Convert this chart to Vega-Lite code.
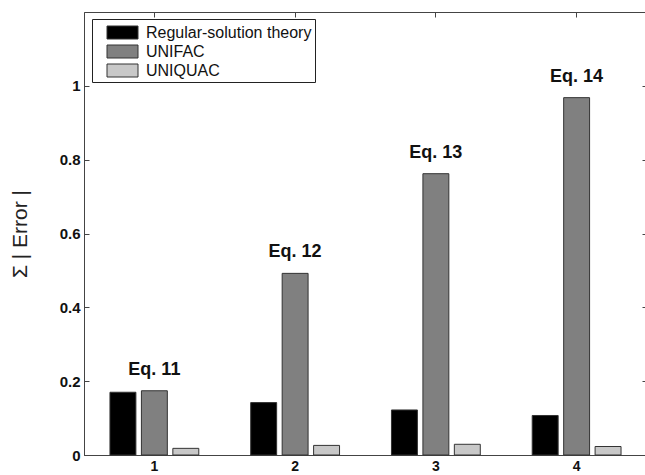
{
  "$schema": "https://vega.github.io/schema/vega-lite/v6.json",
  "autosize": {"type": "none"},
  "padding": {"left": 84, "top": 12, "right": 0, "bottom": 20},
  "width": 563,
  "height": 443,
  "background": "white",
  "config": {
    "view": {"stroke": "#444", "strokeWidth": 1},
    "font": "Liberation Sans",
    "axis": {"grid": false, "domainColor": "#444", "tickColor": "#444", "labelColor": "#111", "labelFont": "Liberation Sans", "labelFontWeight": "bold", "labelFontSize": 15}
  },
  "data": {
    "values": [
      {"eq": "1", "method": "Regular-solution theory", "error": 0.170},
      {"eq": "1", "method": "UNIFAC", "error": 0.174, "label": "Eq. 11"},
      {"eq": "1", "method": "UNIQUAC", "error": 0.018},
      {"eq": "2", "method": "Regular-solution theory", "error": 0.142},
      {"eq": "2", "method": "UNIFAC", "error": 0.492, "label": "Eq. 12"},
      {"eq": "2", "method": "UNIQUAC", "error": 0.026},
      {"eq": "3", "method": "Regular-solution theory", "error": 0.122},
      {"eq": "3", "method": "UNIFAC", "error": 0.762, "label": "Eq. 13"},
      {"eq": "3", "method": "UNIQUAC", "error": 0.029},
      {"eq": "4", "method": "Regular-solution theory", "error": 0.107},
      {"eq": "4", "method": "UNIFAC", "error": 0.968, "label": "Eq. 14"},
      {"eq": "4", "method": "UNIQUAC", "error": 0.023}
    ]
  },
  "layer": [
    {
      "mark": {"type": "bar", "stroke": "#333", "strokeWidth": 1},
      "encoding": {
        "x": {"field": "eq", "type": "nominal", "sort": ["1", "2", "3", "4"],
              "scale": {"paddingInner": 0, "paddingOuter": 0},
              "axis": {"orient": "bottom", "title": null, "labelAngle": 0, "tickSize": -5, "labelPadding": 9, "labelFontSize": 14}},
        "xOffset": {"field": "method", "type": "nominal",
                    "sort": ["Regular-solution theory", "UNIFAC", "UNIQUAC"],
                    "scale": {"paddingInner": 0.175, "paddingOuter": 0.826}},
        "y": {"field": "error", "type": "quantitative",
              "scale": {"domain": [0, 1.2], "nice": false},
              "axis": {"orient": "left", "values": [0, 0.2, 0.4, 0.6, 0.8, 1], "format": "~g", "tickSize": -5, "labelPadding": 9,
                       "title": "Σ | Error |", "titleFont": "Liberation Sans", "titleFontSize": 21, "titleFontWeight": "normal", "titleColor": "#222", "titlePadding": 29}},
        "color": {"field": "method", "type": "nominal",
                  "scale": {"domain": ["Regular-solution theory", "UNIFAC", "UNIQUAC"], "range": ["#000000", "#808080", "#c8c8c8"]},
                  "legend": {"title": null, "orient": "none", "legendX": 8, "legendY": 7,
                             "strokeColor": "#222", "padding": 3, "fillColor": "white",
                             "symbolType": "M-1.55,-0.65H1.55V0.65H-1.55Z", "symbolSize": 400,
                             "symbolStrokeColor": "#333", "symbolStrokeWidth": 1, "symbolOffset": 17,
                             "labelFont": "Liberation Sans", "labelFontSize": 16, "labelFontWeight": "normal", "labelColor": "#111", "labelOffset": 13, "labelLimit": 0, "rowPadding": 0}}
      }
    },
    {
      "transform": [{"filter": "datum.label != null"}],
      "mark": {"type": "text", "baseline": "bottom", "dy": -12, "font": "Liberation Sans", "fontWeight": "bold", "fontSize": 18, "color": "#111"},
      "encoding": {
        "x": {"field": "eq", "type": "nominal", "sort": ["1", "2", "3", "4"],
              "axis": {"orient": "top", "title": null, "labels": false, "domain": false, "tickSize": -5}},
        "y": {"field": "error", "type": "quantitative",
              "axis": {"orient": "right", "title": null, "labels": false, "domain": false, "tickSize": -5, "values": [0, 0.2, 0.4, 0.6, 0.8, 1]}},
        "text": {"field": "label"}
      }
    }
  ],
  "resolve": {"axis": {"x": "independent", "y": "independent"}}
}
